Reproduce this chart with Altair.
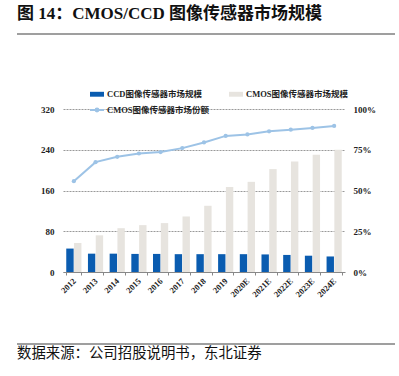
import altair as alt
import pandas as pd

years = ['2012', '2013', '2014', '2015', '2016', '2017', '2018', '2019',
         '2020E', '2021E', '2022E', '2023E', '2024E']
ccd = [46, 36, 36, 35.5, 35.5, 35, 35, 35, 35, 34.5, 33.5, 32, 30.5]
cmos = [57, 72, 86, 92, 96, 109, 130, 167, 177, 202, 217, 230, 240]
share = [55.7, 67.4, 70.7, 72.7, 73.6, 76.0, 79.5, 83.5, 84.4, 86.3, 87.3, 88.4, 89.6]

CCD = 'CCD图像传感器市场规模'
CMOS = 'CMOS图像传感器市场规模'
SHARE = 'CMOS图像传感器市场份额'
title_text = '图 14：CMOS/CCD 图像传感器市场规模'
source_text = '数据来源：公司招股说明书，东北证券'

df = pd.DataFrame({'year': years, CCD: ccd, CMOS: cmos,
                   'share': [s / 100 for s in share]})

SERIF = 'Liberation Serif, Noto Sans CJK SC'
BLUE = '#0a5cb0'
GREY = '#e7e4df'
LBLUE = '#9dc3e6'

xaxis = alt.Axis(title=None, labelAngle=-45, labelFont=SERIF, labelFontSize=8.5,
                 labelFontWeight='bold', labelColor='#222', labelPadding=4,
                 labelAlign='right', labelBaseline='middle',
                 domainColor='#888', tickColor='#888', tickSize=3, tickBand='extent',
                 grid=False)
xenc = alt.X('year:N', sort=years, axis=xaxis,
             scale=alt.Scale(paddingInner=0.3, paddingOuter=0.15))

base = alt.Chart(df)

bars = base.transform_fold([CCD, CMOS], as_=['series', 'value']).mark_bar().encode(
    x=xenc,
    xOffset=alt.XOffset('series:N', sort=[CCD, CMOS], scale=alt.Scale(paddingInner=0.05)),
    y=alt.Y('value:Q', scale=alt.Scale(domain=[0, 320]),
            axis=alt.Axis(title=None, values=[0, 80, 160, 240, 320], orient='left',
                          labelFont=SERIF, labelFontSize=9, labelFontWeight='bold',
                          labelColor='#222', labelPadding=9, domain=False, ticks=False,
                          grid=True, gridColor='#999', gridDash=[2, 1], gridWidth=1)),
    color=alt.Color('series:N', sort=[CCD, CMOS],
                    scale=alt.Scale(domain=[CCD, CMOS], range=[BLUE, GREY]),
                    legend=alt.Legend(title=None, orient='none', legendX=26, legendY=-23,
                                      direction='horizontal', columns=2, columnPadding=26,
                                      symbolType='M-1,-0.35L1,-0.35L1,0.35L-1,0.35Z',
                                      symbolSize=196, labelOffset=2, padding=0,
                                      labelFont=SERIF, labelFontSize=8.5,
                                      labelFontWeight='bold', labelColor='#222',
                                      labelLimit=200))
)

line = base.transform_calculate(lname="'" + SHARE + "'").mark_line(
    color=LBLUE, strokeWidth=2,
    point=alt.OverlayMarkDef(filled=True, size=18, color=LBLUE)
).encode(
    x=xenc,
    y=alt.Y('share:Q', scale=alt.Scale(domain=[0, 1]),
            axis=alt.Axis(title=None, orient='right', values=[0, 0.25, 0.5, 0.75, 1],
                          format='.0%', labelFont=SERIF, labelFontSize=9,
                          labelFontWeight='bold', labelColor='#222', labelPadding=8,
                          domain=False, ticks=False, grid=False)),
    color=alt.Color('lname:N', scale=alt.Scale(domain=[SHARE], range=[LBLUE]),
                    legend=alt.Legend(title=None, orient='none', legendX=26, legendY=-7,
                                      symbolType='M-1,0L1,0M0.2,0A0.2,0.2,0,1,1,-0.2,0A0.2,0.2,0,1,1,0.2,0',
                                      symbolSize=196, symbolStrokeWidth=2,
                                      symbolFillColor=LBLUE, symbolStrokeColor=LBLUE,
                                      labelOffset=2, padding=0,
                                      labelFont=SERIF, labelFontSize=8.5,
                                      labelFontWeight='bold', labelColor='#222',
                                      labelLimit=200))
)

one = pd.DataFrame({'t': [title_text], 's': [source_text]})
title = alt.Chart(one).mark_text(align='left', baseline='middle', font=SERIF,
                                 fontSize=17, fontWeight='bold', color='#111').encode(
    x=alt.value(-46), y=alt.value(-95), text='t:N')
title_rule = alt.Chart(one).mark_rule(color='#7f7f7f', strokeWidth=1.5).encode(
    x=alt.value(-46), x2=alt.value(332), y=alt.value(-75))
foot_rule = alt.Chart(one).mark_rule(color='#7f7f7f', strokeWidth=1.5).encode(
    x=alt.value(-46), x2=alt.value(332), y=alt.value(235))
foot = alt.Chart(one).mark_text(align='left', baseline='middle', font=SERIF,
                                fontSize=14.4, color='#111').encode(
    x=alt.value(-46), y=alt.value(245), text='s:N')

chart = alt.layer(bars, line, title, title_rule, foot_rule, foot).resolve_scale(
    y='independent', color='independent'
).properties(
    width=282, height=163,
    autosize=alt.AutoSizeParams(type='none'),
    padding={'left': 63, 'top': 109, 'right': 54, 'bottom': 104},
    background='white'
).configure_view(stroke=None)

chart.save('out.html', embed_options={'renderer': 'svg', 'actions': False})
